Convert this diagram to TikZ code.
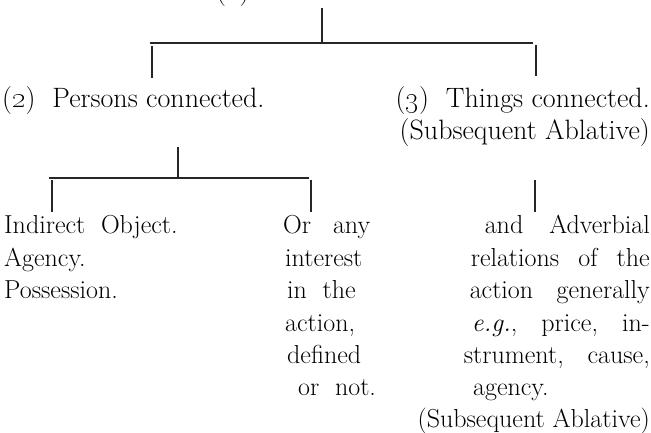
\documentclass[tikz,border=0pt]{standalone}
\begin{document}
\tikzset{
  txt/.style={inner sep=0pt, font=\fontsize{26}{32}\selectfont},
  big/.style={font=\fontsize{28}{32}\selectfont},
  lw/.style={txt, anchor=base west},
  le/.style={txt, anchor=base east},
  conn/.style={line width=1.1pt, black!85, line cap=butt},
}
\begin{tikzpicture}[x=1pt,y=-1pt]
\useasboundingbox (0,0) rectangle (651,432);
\fill[white] (0,0) rectangle (651,432);
\begin{scope}
\clip (0,0) rectangle (651,432);
% top (cut-off) heading
\node[lw,big] (n1) at (216,-1) {(\oldstylenums{1})};
% level 1 connectors
\coordinate (t0) at (322,8);
\coordinate (t1) at (322,43);
\coordinate (h1l) at (150,43);
\coordinate (h1r) at (533,43);
\coordinate (d1a) at (152,46);
\coordinate (d1b) at (152,78);
\coordinate (d2a) at (536,45);
\coordinate (d2b) at (536,76);
\draw[conn] (t0) -- (t1);
\draw[conn] (h1l) -- (h1r);
\draw[conn] (d1a) -- (d1b);
\draw[conn] (d2a) -- (d2b);
% level 2 texts
\node[lw,big] (p2) at (2,107) {(\oldstylenums{2})\ \ Persons connected.};
\node[le,big] (p3) at (650,107) {(\oldstylenums{3})\ \ Things connected.};
\node[le,big] (p3b) at (650,139) {(Subsequent Ablative)};
% level 2 connectors
\coordinate (u0) at (178,147);
\coordinate (u1) at (178,178);
\coordinate (h2l) at (49,178);
\coordinate (h2r) at (309,178);
\coordinate (e1a) at (52,180);
\coordinate (e1b) at (52,212);
\coordinate (e2a) at (311,180);
\coordinate (e2b) at (311,212);
\coordinate (e3a) at (535,180);
\coordinate (e3b) at (535,212);
\draw[conn] (u0) -- (u1);
\draw[conn] (h2l) -- (h2r);
\draw[conn] (e1a) -- (e1b);
\draw[conn] (e2a) -- (e2b);
\draw[conn] (e3a) -- (e3b);
% left column
\node[lw] (a1) at (4,233) {Indirect\ \ Object.};
\node[lw] (a2) at (4,266) {Agency.};
\node[lw] (a3) at (4,298) {Possession.};
% middle column
\node[lw] (b1) at (283,233) {\hbox to 87pt{Or\hfill any}};
\node[lw] (b2) at (285,266) {interest};
\node[lw] (b3) at (287,298) {in\ \ the};
\node[lw] (b4) at (285,331) {action,};
\node[lw] (b5) at (287,363) {defined};
\node[lw] (b6) at (298,395) {or\ \ not.};
% right column
\node[le] (c1) at (650,233) {\hbox to 165pt{and\hfill Adverbial}};
\node[le] (c2) at (650,266) {\hbox to 179pt{relations\hfill of\hfill the}};
\node[le] (c3) at (650,298) {\hbox to 180pt{action\hfill generally}};
\node[le] (c4) at (650,331) {\hbox to 178pt{\textit{e.g.},\hfill price,\hfill in-}};
\node[le] (c5) at (650,363) {\hbox to 186pt{strument,\hfill cause,}};
\node[lw] (c6) at (473,395) {agency.};
\node[le] (c7) at (650,427) {(Subsequent Ablative)};
\end{scope}
\end{tikzpicture}
\end{document}
